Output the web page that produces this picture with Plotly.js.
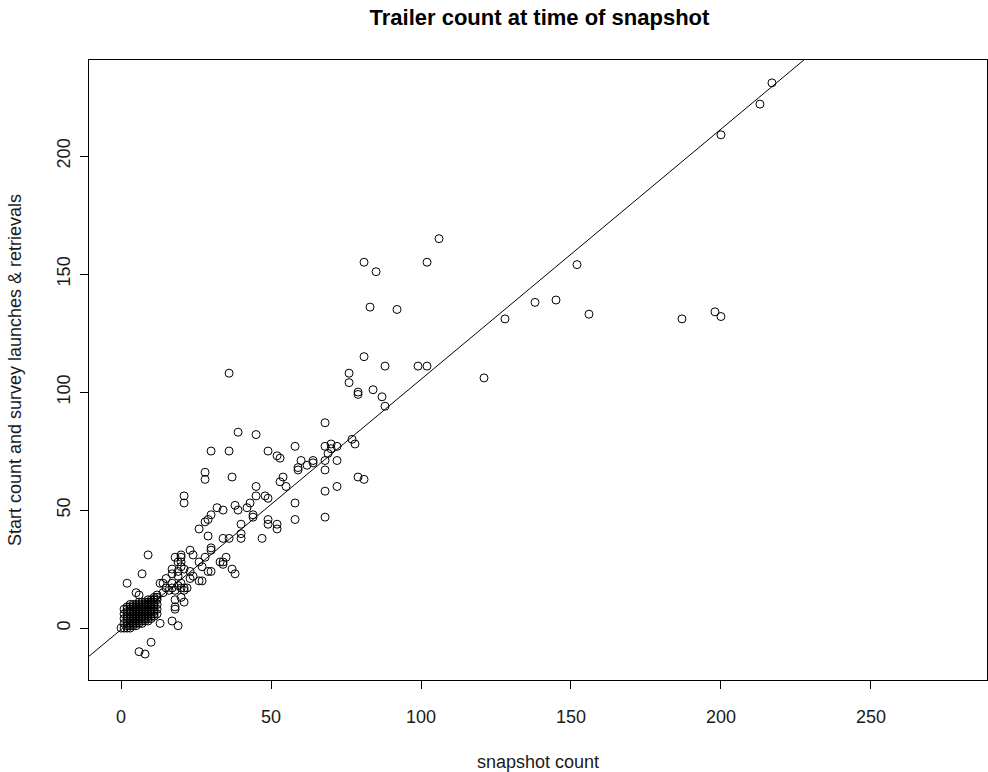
<!DOCTYPE html>
<html><head><meta charset="utf-8">
<script src="https://cdn.plot.ly/plotly-3.0.1.min.js"></script>
<style>html,body{margin:0;padding:0;background:#fff}</style>
</head><body><div id="chart" style="width:988px;height:772px"></div>
<script>
// snapshot count (x) and start count + survey launches & retrievals (y)
const snapshot = [
 217,213,200,106,81,102,85,152,83,92,138,145,128,156,187,198,200,121,81,88,99,102,76,76,79,79,84,87,88,36,
 68,58,68,70,72,70,77,78,69,72,68,79,81,72,68,58,60,64,64,59,59,62,54,55,53,58,68,68,
 39,45,30,36,49,52,28,28,37,45,53,45,48,49,43,32,34,38,39,42,21,21,30,29,26,44,44,40,49,49,52,52,29,40,34,36,40,47,28,
 9,23,24,20,20,30,30,28,35,33,34,34,37,38,30,27,23,24,21,19,13,7,2,5,6,16,21,18,21,18,18,17,19,13,10,6,8,
 18,19,20,20,26,27,17,17,14,15,19,20,23,17,19,20,18,17,21,22,26,29,15,14,12,11,11,10,9,7,20,
 0,
 1,1,1,1,1,
 2,2,2,2,2,2,2,2,2,2,
 3,3,3,3,3,3,3,3,3,3,3,
 4,4,4,4,4,4,4,4,4,4,
 5,5,5,5,5,5,5,5,5,5,
 6,6,6,6,6,6,6,6,6,6,
 7,7,7,7,7,7,7,7,7,7,
 8,8,8,8,8,8,8,8,8,
 9,9,9,9,9,9,9,9,9,9,
 10,10,10,10,10,10,10,10,10,
 11,11,11,11,11,11,11,11,
 12,12,12,12,12
];
const launches = [
 231,222,209,165,155,155,151,154,136,135,138,139,131,133,131,134,132,106,115,111,111,111,108,104,100,99,101,98,94,108,
 87,77,77,78,77,76,80,78,74,71,67,64,63,60,58,53,71,70,71,68,67,69,64,60,72,46,47,71,
 83,82,75,75,75,73,66,63,64,60,62,56,56,55,53,51,50,52,50,51,56,53,48,46,42,48,47,44,46,44,44,42,39,40,38,38,38,38,45,
 31,33,31,31,30,34,33,30,30,28,28,27,25,23,24,20,24,22,25,22,19,23,19,15,14,16,17,12,11,9,8,3,1,2,-6,-10,-11,
 30,28,28,26,28,26,25,23,19,21,24,19,21,19,18,17,16,17,16,17,20,24,17,15,14,13,12,11,10,9,13,
 0,
 0,2,4,6,8,
 0,1,2,3,4,5,6,7,8,9,
 0,1,2,3,4,5,6,7,8,9,10,
 1,2,3,4,5,6,7,8,9,10,
 1,2,3,4,5,6,7,8,9,10,
 2,3,4,5,6,7,8,9,10,11,
 2,3,4,5,6,7,8,9,10,11,
 3,4,5,6,7,8,9,10,11,
 3,4,5,6,7,8,9,10,11,12,
 4,5,6,7,8,9,10,11,12,
 5,6,7,8,9,10,11,12,
 6,8,10,12,13
];
// least-squares line (intercept, slope) as drawn by abline
const fitIntercept = -0.6;
const fitSlope = 1.06;
const xTicks = [0,50,100,150,200,250];
const yTicks = [0,50,100,150,200];
const xRange = [-10.7, 288.7];
const yRange = [-22, 240.7];

const font = 'Liberation Sans, Arial, sans-serif';
const pts = {
  type:'scatter', mode:'markers', x:snapshot, y:launches,
  marker:{symbol:'circle-open', size:8, color:'#000', line:{width:1, color:'#000'}},
  hoverinfo:'x+y', showlegend:false
};
const fit = {
  type:'scatter', mode:'lines', x:xRange,
  y:xRange.map(v => fitIntercept + fitSlope*v),
  line:{color:'#000', width:1}, hoverinfo:'skip', showlegend:false
};
const layout = {
  width:988, height:772,
  margin:{l:89, r:1, t:60, b:92},
  paper_bgcolor:'#fff', plot_bgcolor:'#fff',
  font:{family:font, size:18, color:'#1a1a1a'},
  title:{text:'<b>Trailer count at time of snapshot</b>', x:0.546, xanchor:'center', y:0.977, yanchor:'middle',
         font:{family:font, size:22, color:'#000'}},
  xaxis:{range:xRange, tickvals:xTicks, ticks:'outside', ticklen:8, tickcolor:'#000',
         showline:true, mirror:true, linecolor:'#000', linewidth:1, showgrid:false, zeroline:false,
         ticklabelstandoff:12, tickfont:{size:18},
         title:{text:'snapshot count', font:{size:18}, standoff:30}},
  yaxis:{range:yRange, tickvals:yTicks, ticks:'outside', ticklen:8, tickcolor:'#000', tickangle:-90,
         showline:true, mirror:true, linecolor:'#000', linewidth:1, showgrid:false, zeroline:false,
         ticklabelstandoff:3, tickfont:{size:18},
         title:{text:'Start count and survey launches & retrievals', font:{size:18}, standoff:27}}
};
Plotly.newPlot('chart', [fit, pts], layout, {displayModeBar:false, staticPlot:true});
</script></body></html>
